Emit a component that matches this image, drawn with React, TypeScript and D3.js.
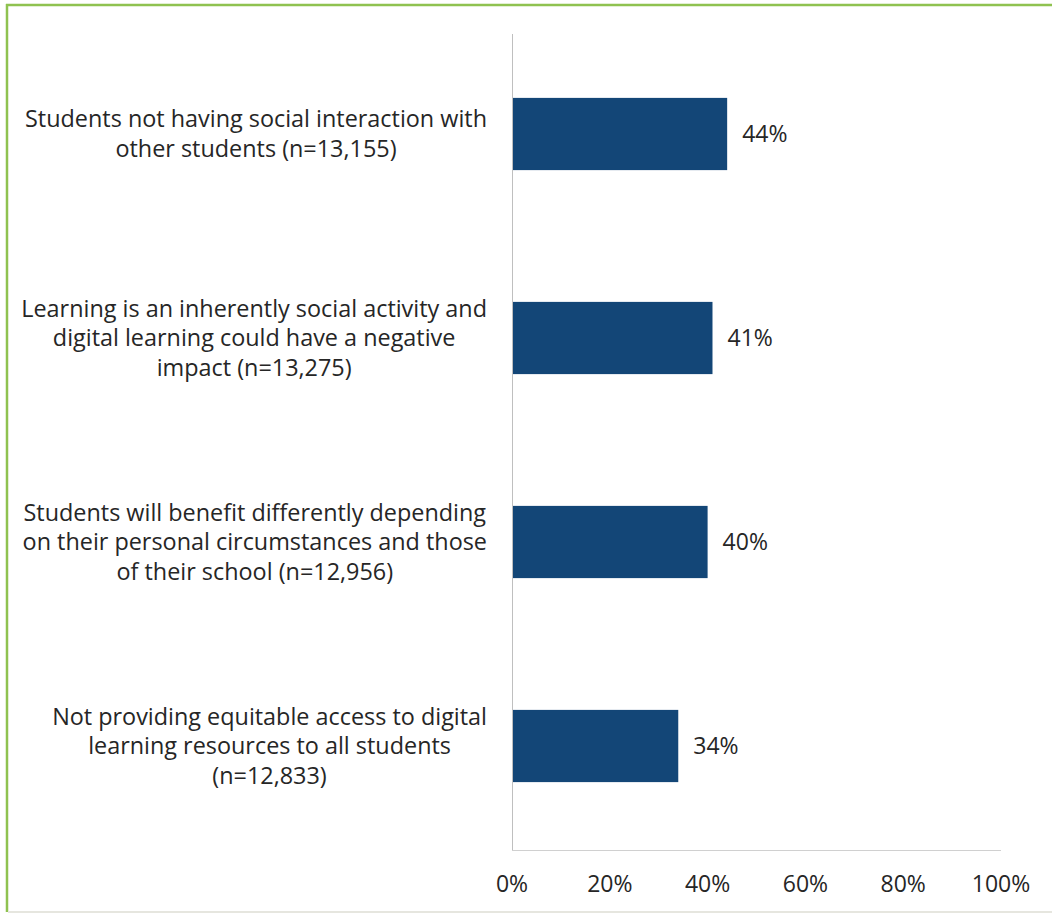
import React from "react";
import * as d3 from "d3";

const categories: string[][] = [
  ["Students not having social interaction with", "other students (n=13,155)"],
  ["Learning is an inherently social activity and", "digital learning could have a negative", "impact (n=13,275)"],
  ["Students will benefit differently depending", "on their personal circumstances and those", "of their school (n=12,956)"],
  ["Not providing equitable access to digital", "learning resources to all students", "(n=12,833)"],
];
const values: number[] = [44, 41, 40, 34];
const tickValues: number[] = [0, 20, 40, 60, 80, 100];

const W = 1052;
const H = 914;
const FONT = "'Open Sans', sans-serif";
const CAT_SIZE = 23.4;
const NUM_SIZE = 23;

function measure(text: string, size: number): number {
  if (typeof document === "undefined") return text.length * size * 0.5;
  const c = document.createElement("canvas").getContext("2d");
  if (!c) return text.length * size * 0.5;
  c.font = `${size}px 'Open Sans'`;
  return c.measureText(text).width;
}

export default function App() {
  const left = 512;
  const right = 1001;
  const top = 34;
  const bottom = 850;
  const x = d3.scaleLinear().domain([0, 100]).range([left, right]);
  const y = d3
    .scaleBand<number>()
    .domain(d3.range(categories.length))
    .range([top - 2, bottom - 2])
    .paddingInner(0.646)
    .paddingOuter(0.323);
  const lineH = 29.5;
  const textColor = "#262626";
  const labelRight = 487;

  return (
    <svg
      width={W}
      height={H}
      style={{ position: "absolute", left: 0, top: 0, background: "#fff" }}
      fontFamily={FONT}
    >
      <rect x={0} y={0} width={W} height={H} fill="#fff" />
      {/* border */}
      <line x1={6} y1={5} x2={W} y2={5} stroke="#8fc250" strokeWidth={2.5} />
      <line x1={7} y1={4} x2={7} y2={912} stroke="#8fc250" strokeWidth={2.5} />
      <line x1={8} y1={912} x2={W} y2={912} stroke="#e6e6df" strokeWidth={2} />

      {/* axes */}
      <line x1={left + 0.5} y1={top} x2={left + 0.5} y2={bottom} stroke="#bfbfbf" strokeWidth={1} />
      <line x1={left} y1={bottom + 0.5} x2={right} y2={bottom + 0.5} stroke="#d0d0d0" strokeWidth={1} />

      {/* bars */}
      {values.map((v, i) => {
        const by = y(i)!;
        const bh = y.bandwidth();
        const maxW = d3.max(categories[i], (ln) => measure(ln, CAT_SIZE)) ?? 0;
        const cx = labelRight - maxW / 2;
        return (
          <g key={i}>
            <rect x={x(0) + 1} y={by} width={x(v) - x(0) - 1} height={bh} fill="#134677" />
            <text
              x={x(v) + 15}
              y={by + bh / 2}
              dy="0.35em"
              fontSize={NUM_SIZE}
              fill={textColor}
            >
              {v}%
            </text>
            <text fontSize={CAT_SIZE} fill={textColor} textAnchor="middle">
              {categories[i].map((ln, j) => (
                <tspan
                  key={j}
                  x={cx}
                  y={by + bh / 2 + (j - (categories[i].length - 1) / 2) * lineH}
                  dy="0.35em"
                >
                  {ln}
                </tspan>
              ))}
            </text>
          </g>
        );
      })}

      {/* ticks */}
      {tickValues.map((t) => (
        <text
          key={t}
          x={x(t)}
          y={884}
          dy="0.35em"
          textAnchor="middle"
          fontSize={NUM_SIZE}
          fill={textColor}
        >
          {t}%
        </text>
      ))}
    </svg>
  );
}
